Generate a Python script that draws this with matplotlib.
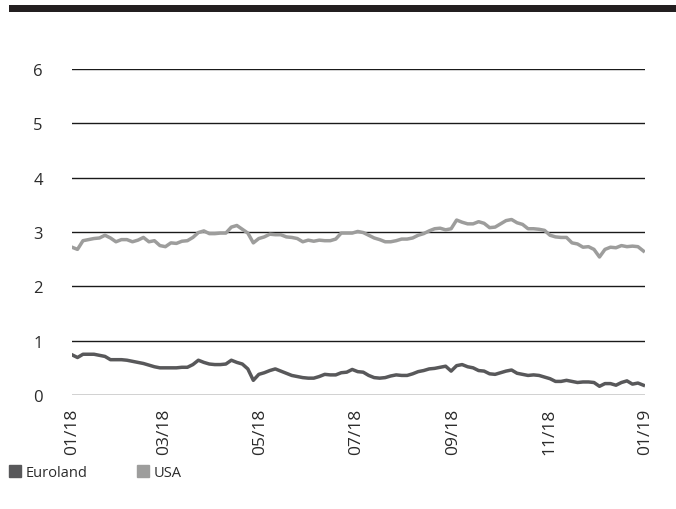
import numpy as np
import pandas as pd
import matplotlib
matplotlib.use("Agg")
import matplotlib.pyplot as plt
import matplotlib.dates as mdates
from matplotlib.patches import Patch, Rectangle

plt.rcParams['font.family'] = ['Open Sans', 'DejaVu Sans']

# half-weekly readings, 01/2018 - 12/2018
usa = [2.72, 2.68, 2.84, 2.86, 2.88, 2.89, 2.94, 2.89, 2.82, 2.86, 2.86, 2.82, 2.85,
       2.90, 2.82, 2.84, 2.75, 2.73, 2.80, 2.79, 2.83, 2.84, 2.90, 2.99, 3.02, 2.97,
       2.97, 2.98, 2.98, 3.09, 3.12, 3.05, 2.98, 2.80, 2.88, 2.91, 2.96, 2.95, 2.95,
       2.91, 2.90, 2.88, 2.82, 2.85, 2.83, 2.85, 2.84, 2.84, 2.87, 2.98, 2.98, 2.98, 3.01,
       2.99, 2.94, 2.89, 2.86, 2.82, 2.82, 2.84, 2.87, 2.87, 2.89, 2.94, 2.97, 3.02,
       3.06, 3.07, 3.04, 3.06, 3.22, 3.18, 3.15, 3.15, 3.19, 3.16, 3.08, 3.09, 3.15,
       3.21, 3.23, 3.17, 3.14, 3.06, 3.06, 3.05, 3.03, 2.94, 2.91, 2.90, 2.90, 2.80,
       2.78, 2.72, 2.73, 2.68, 2.54, 2.68, 2.72, 2.71, 2.75, 2.73, 2.74, 2.73, 2.65]

euroland = [0.74, 0.69, 0.75, 0.75, 0.75, 0.73, 0.71, 0.65, 0.65, 0.65, 0.64, 0.62, 0.60,
            0.58, 0.55, 0.52, 0.50, 0.50, 0.50, 0.50, 0.51, 0.51, 0.56, 0.64, 0.60, 0.57,
            0.56, 0.56, 0.57, 0.64, 0.60, 0.57, 0.48, 0.27, 0.38, 0.41, 0.45, 0.48, 0.44,
            0.40, 0.36, 0.34, 0.32, 0.31, 0.31, 0.34, 0.38, 0.37, 0.37, 0.41, 0.42, 0.47, 0.43,
            0.42, 0.36, 0.32, 0.31, 0.32, 0.35, 0.37, 0.36, 0.36, 0.39, 0.43, 0.45, 0.48,
            0.49, 0.51, 0.53, 0.44, 0.54, 0.56, 0.52, 0.50, 0.45, 0.44, 0.39, 0.38, 0.41,
            0.44, 0.46, 0.40, 0.38, 0.36, 0.37, 0.36, 0.33, 0.30, 0.25, 0.25, 0.27, 0.25,
            0.23, 0.24, 0.24, 0.23, 0.16, 0.21, 0.21, 0.18, 0.23, 0.26, 0.20, 0.22, 0.18]

dates = pd.date_range('2018-01-01', periods=len(usa), freq='84h')

c_eur = '#58585a'
c_usa = '#9d9d9c'
txt = '#2b2b2b'

fig = plt.figure(figsize=(6.76, 5.10), dpi=100)
ax = fig.add_axes([72/676, 1 - 396/510, (645 - 72)/676, (396 - 70)/510])

# top bar
fig.add_artist(Rectangle((9/676, 1 - 13/510), 1 - 9/676, 7/510,
                         transform=fig.transFigure, color='#231f20', lw=0))

for v in range(0, 7):
    ax.axhline(v, color='#1a1a1a', lw=1.0, zorder=1)

ax.plot(dates, usa, color=c_usa, lw=2.5, zorder=3)
ax.plot(dates, euroland, color=c_eur, lw=2.5, zorder=3)

ax.set_ylim(0, 6)
ax.set_xlim(pd.Timestamp('2018-01-01'), pd.Timestamp('2019-01-01'))
ax.set_yticks(range(0, 7))
ax.xaxis.set_major_locator(mdates.MonthLocator(bymonth=[1, 3, 5, 7, 9, 11]))
ax.xaxis.set_major_formatter(mdates.DateFormatter('%m/%y'))
ax.tick_params(axis='x', length=0, pad=9, labelrotation=90, labelsize=12.5, colors=txt)
ax.tick_params(axis='y', length=0, pad=21, labelsize=12, colors=txt)
for s in ax.spines.values():
    s.set_visible(False)

handles = [Patch(color=c_eur, label='Euroland'), Patch(color=c_usa, label='USA')]
fig.legend(handles=handles, loc='lower left', bbox_to_anchor=(-0.006, 0.031), ncol=2,
           frameon=False, fontsize=10.5, handlelength=0.8, handleheight=0.8,
           handletextpad=0.35, columnspacing=3.4, labelcolor=txt)

fig.savefig('out.png', dpi=100)
